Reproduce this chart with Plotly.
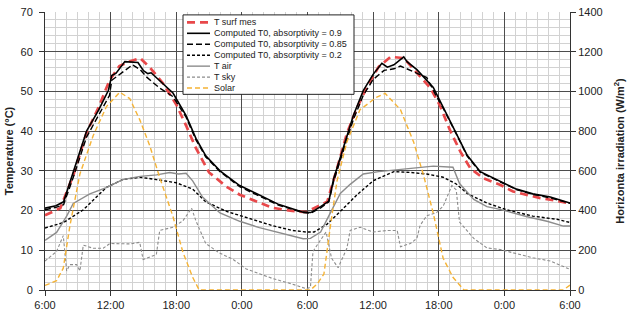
import plotly.graph_objects as go

# ---- data (hours since 6:00 of day 1) ----
x_ticks = [0, 6, 12, 18, 24, 30, 36, 42, 48]
x_ticklabels = ["6:00", "12:00", "18:00", "0:00", "6:00", "12:00", "18:00", "0:00", "6:00"]

surf_h = [0, 1.4, 2.6, 3.8, 4.9, 5.9, 6.8, 7.8, 8.7, 9.6, 10.8, 12, 12.9, 13.8, 15, 16.6, 17.8, 19.3, 20.8, 22.6, 23.9,
          24.6, 25.8, 26.7, 27.6, 28.5, 29.4, 30.5, 31.6, 32.8, 34, 35.2, 36.1, 37, 38, 38.9, 40.1, 41.6, 42.8, 44, 45.2, 46.5, 48]
surf_t = [18.8, 20.6, 29, 39.6, 46, 52.8, 56.4, 57.6, 58.4, 56, 52, 46.7, 41.4, 35.7, 29.6, 26, 24, 22.3, 20.7, 19.9, 19.6,
          20.6, 22.2, 30.6, 39.4, 45.7, 50.9, 56.2, 58.7, 58.4, 54.7, 51, 46.5, 40.4, 34.7, 30.6, 28.1, 26.5, 24.8, 24, 23.2, 22.6, 21.8]

a90_h = [0, 1.0, 1.7, 2.6, 3.8, 4.9, 5.8, 6.1, 6.5, 7.3, 8.5, 9.0, 9.4, 9.7, 10.8, 11.7, 12.9, 13.8, 14.7, 16, 17.8, 19.6, 21.4, 23.6,
         24.3, 25.2, 25.95, 26.4, 27.3, 28.2, 29.1, 30, 30.8, 31.3, 31.9, 32.5, 32.8, 33.1, 34, 35.5, 36.4, 37.6, 38.6, 39.8, 41.6, 43.1, 44.6, 46.2, 48]
a90_t = [20.6, 21.2, 22.2, 30, 40, 45.3, 50.3, 54, 54.6, 57.5, 57.3, 55.2, 54.5, 54.7, 52, 49.6, 43.9, 38.2, 33.8, 30, 26.3, 23.9, 21.5, 19.6,
         19.5, 21, 22.4, 28.1, 36.3, 44, 50.2, 54.3, 57.1, 56.1, 56.7, 58, 58.7, 57.5, 55.5, 51, 46.1, 39.5, 33.9, 29.8, 27.4, 25.4, 24.2, 23.4, 21.9]

a85_h = [0, 1.0, 1.7, 2.6, 3.8, 4.9, 5.9, 6.1, 7.1, 8.0, 8.7, 9.3, 10.5, 11.7, 12.9, 13.8, 14.7, 16, 17.8, 19.6, 21.4, 23.6,
         24.3, 25.2, 25.95, 26.4, 27.3, 28.2, 29.1, 30, 31, 31.9, 32.5, 33.4, 34.9, 35.8, 36.4, 37.6, 38.6, 39.8, 41.6, 43.1, 44.6, 46.2, 48]
a85_t = [20.2, 20.8, 21.5, 28.5, 38.5, 44, 49, 52.8, 54.8, 56.7, 55.5, 53.6, 50.8, 48.7, 43.5, 37.8, 33.5, 29.8, 26, 23.6, 21.3, 19.5,
         19.3, 20.7, 22.2, 27.5, 35.5, 43, 49, 53, 55.3, 55.7, 56.4, 55.3, 53.5, 48.7, 45.8, 39.3, 33.7, 29.6, 27.2, 25.3, 24.1, 23.2, 21.8]

a20_h = [0, 1.7, 3.5, 5.6, 7.1, 8.7, 10.2, 12, 13.5, 14.7, 16.6, 18.4, 20.8, 22.6, 23.9,
         24.6, 25.8, 27, 28.5, 30, 31.9, 33.4, 34.9, 36.4, 37.6, 38.6, 40.4, 42.2, 44.6, 46.8, 48]
a20_t = [15.6, 17, 20.2, 25.8, 27.8, 28.4, 27.8, 27, 25.4, 22.2, 19.8, 18.2, 16.2, 15, 14.6,
         14.6, 16.6, 19.8, 23.9, 27.5, 29.8, 29.6, 29.2, 28.4, 26.7, 24.3, 21.9, 20.2, 18.6, 17.8, 17.0]

air_h = [0, 1.06, 1.98, 2.58, 4.1, 5.6, 7.1, 8.7, 10.2, 11.4, 12.2, 12.9, 13.5, 14.4, 16, 17.8, 19.6, 21.4, 23.6,
         24.27, 25.2, 26.1, 27.0, 27.9, 29.1, 30.5, 32.5, 34, 35.5, 37.3, 37.9, 39.2, 40.4, 41.6, 44, 45.9, 47.4, 48]
air_t = [12.5, 14.5, 18.6, 21.8, 24.2, 25.8, 27.8, 28.6, 29, 29.6, 29.2, 29.4, 27.5, 23.4, 19.4, 17.3, 15.7, 14.5, 12.9,
         13, 14.6, 19.5, 24.3, 26.6, 29.2, 29.8, 30.4, 30.9, 31.2, 30.9, 26.8, 22.8, 21, 20.3, 18.5, 17.3, 16.1, 16.1]

sky_h = [0, 1.06, 1.67, 1.98, 2.28, 2.89, 3.19, 3.5, 4.41, 5.32, 5.93, 6.84, 7.75, 8.66, 8.97, 10.18, 10.49, 11.7, 12.6, 13.4,
         13.8, 14.7, 15.96, 17.2, 18.4, 19.6, 20.8, 22.6, 23.9,
         24.27, 24.5, 25.1, 25.7, 26.2, 26.8, 27.6, 27.9, 28.8, 30, 31.3, 32.2, 32.5, 33.4, 34, 34.3, 34.9, 35.8, 36.4, 37.2,
         37.6, 37.9, 39.2, 40.4, 41.6, 43.4, 44.6, 46.2, 47.7, 48]
sky_t = [7.3, 9.7, 13.7, 4.8, 6.4, 6.4, 4.8, 11.3, 10.5, 10.5, 11.7, 11.7, 11.6, 12, 7.7, 8.9, 15, 15.8, 17.4, 20.6,
         17.4, 11.7, 9.3, 7.7, 5.3, 4.1, 2.9, 1.5, 0.3,
         0.7, 9.7, 12.2, 14.6, 8.0, 5.6, 10.5, 15, 15.8, 14.6, 15, 15, 10.9, 11.7, 13, 16.3, 18.7, 19.5, 21.1, 26.3,
         25.2, 17.1, 13, 10.6, 10.2, 8.9, 8.1, 7.3, 5.4, 5.2]

solar_h = [0, 1.06, 1.67, 2.28, 3.19, 4.41, 5.62, 6.84, 7.75, 8.66, 9.57, 10.49, 11.7, 12.6, 13.5, 14.1, 24.0,
           24.27, 24.88, 25.5, 26.1, 26.7, 27.6, 28.8, 30.35, 31.1, 32.5, 33.7, 34.6, 35.5, 36.4, 37.3, 38.3, 47.4, 48]
solar_w = [23, 47, 110, 324, 584, 778, 924, 996, 964, 858, 728, 566, 370, 192, 64, 0, 0,
           0, 30, 80, 324, 550, 746, 908, 972, 990, 908, 746, 580, 386, 160, 64, 0, 0, 25]

series_names = ["T surf mes", "Computed T0, absorptivity = 0.9", "Computed T0, absorptivity = 0.85",
                "Computed T0, absorptivity = 0.2", "T air", "T sky", "Solar"]

# ---- styles ----
styles = [
    dict(color="#e8484a", width=2.7, dash="8px,5px"),
    dict(color="black", width=1.6, dash="solid"),
    dict(color="black", width=1.4, dash="6px,3px"),
    dict(color="black", width=1.4, dash="3px,2px"),
    dict(color="#8c8c8c", width=1.4, dash="solid"),
    dict(color="#8c8c8c", width=1.1, dash="3px,2px"),
    dict(color="#f5b335", width=1.4, dash="5px,3px"),
]

fig = go.Figure()
xs = [surf_h, a90_h, a85_h, a20_h, air_h, sky_h, solar_h]
ys = [surf_t, a90_t, a85_t, a20_t, air_t, sky_t, solar_w]
for i, (xv, yv) in enumerate(zip(xs, ys)):
    fig.add_trace(go.Scatter(x=xv, y=yv, name=series_names[i], mode="lines",
                             yaxis="y2" if i == 6 else "y", line=styles[i], showlegend=False))

# ---- custom compact legend (plot area: x 45..570 px, y 6..293 px) ----
def px_x(p):
    return (p - 45) / 525.0

def px_y(p):
    return (293 - p) / 287.0

shapes = [dict(type="rect", xref="paper", yref="paper", x0=px_x(183), x1=px_x(354), y0=px_y(91), y1=px_y(9),
               line=dict(color="#222", width=1), fillcolor="white", layer="above")]
annotations = []
row_y = [16.7, 28.0, 39.3, 50.6, 61.9, 73.2, 84.5]
for i, name in enumerate(series_names):
    st = styles[i]
    shapes.append(dict(type="line", xref="paper", yref="paper", x0=px_x(187), x1=px_x(210),
                       y0=px_y(row_y[i]), y1=px_y(row_y[i]), layer="above",
                       line=dict(color=st["color"], width=st["width"], dash=st["dash"])))
    annotations.append(dict(xref="paper", yref="paper", x=px_x(212), y=px_y(row_y[i]), text=name,
                            showarrow=False, xanchor="left", yanchor="middle",
                            font=dict(size=9, color="#222")))

major = "#4d4d4d"
minor = "#d2d2d2"
fig.update_layout(
    width=630, height=317,
    margin=dict(l=45, r=60, t=6, b=24),
    paper_bgcolor="white", plot_bgcolor="white",
    font=dict(family="Liberation Sans, Arial, sans-serif", size=11, color="#222"),
    xaxis=dict(range=[0, 48], tickvals=x_ticks, ticktext=x_ticklabels,
               showgrid=True, gridcolor=major, gridwidth=1,
               minor=dict(dtick=1, tick0=0, showgrid=True, gridcolor=minor, gridwidth=1),
               showline=True, linecolor="#333", ticks="outside", ticklen=5, tickcolor="#333",
               zeroline=False, tickfont=dict(size=11), ticklabeloverflow="allow"),
    yaxis=dict(range=[0, 70], dtick=10, showgrid=True, gridcolor=major, gridwidth=1,
               minor=dict(dtick=2, tick0=0, showgrid=True, gridcolor=minor, gridwidth=1),
               showline=True, linecolor="#333", ticks="outside", ticklen=5, tickcolor="#333",
               zeroline=False, tickfont=dict(size=11), ticklabeloverflow="allow", ticklabelstandoff=4,
               title=dict(text="<b>Temperature (°C)</b>", font=dict(size=11), standoff=4)),
    yaxis2=dict(range=[0, 1400], dtick=200, overlaying="y", side="right", showgrid=False,
                showline=True, linecolor="#333", ticks="outside", ticklen=5, tickcolor="#333",
                zeroline=False, tickfont=dict(size=11), ticklabeloverflow="allow",
                title=dict(text="<b>Horizonta irradiation (W/m<sup>2</sup>)</b>", font=dict(size=11), standoff=14)),
    shapes=shapes,
    annotations=annotations,
    showlegend=False,
)

fig.write_html("out.html")
